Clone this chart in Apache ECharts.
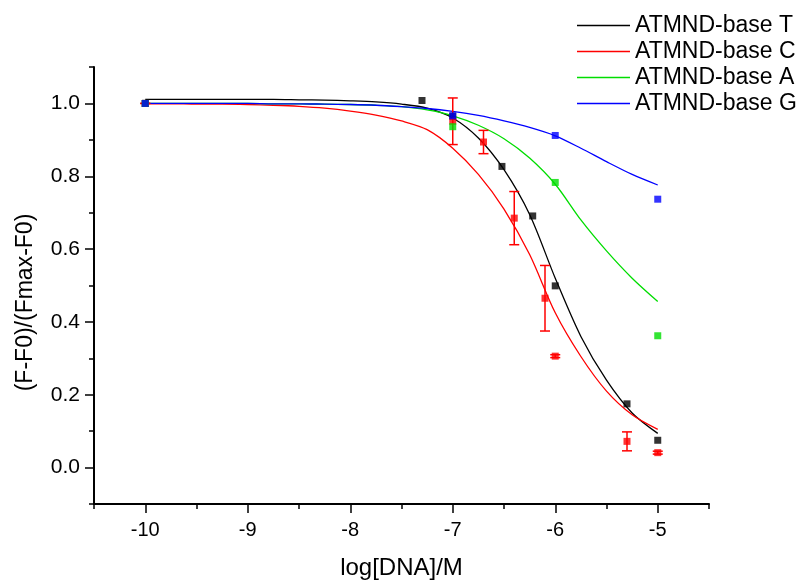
<!DOCTYPE html>
<html>
<head>
<meta charset="utf-8">
<script src="https://cdn.jsdelivr.net/npm/echarts@6/dist/echarts.min.js"></script>
<style>html,body{margin:0;padding:0;background:#fff}#c{width:806px;height:580px}</style>
</head>
<body>
<div id="c"></div>
<script>
// ---------- data ----------
const seriesNames = ['ATMND-base T', 'ATMND-base C', 'ATMND-base A', 'ATMND-base G'];

// measured points
const tX = [-10, -7.3, -7, -6.52, -6.22, -6, -5.3, -5];
const tY = [1.0, 1.008, 0.965, 0.827, 0.691, 0.499, 0.175, 0.075];

const cX = [-10, -7, -6.7, -6.4, -6.1, -6, -5.3, -5];
const cY = [1.0, 0.951, 0.894, 0.685, 0.465, 0.306, 0.072, 0.041];
const cErr = [0, 0.064, 0.032, 0.073, 0.09, 0.004, 0.026, 0.004];

const aX = [-10, -7, -6, -5];
const aY = [1.0, 0.936, 0.783, 0.362];

const gX = [-10, -7, -6, -5];
const gY = [1.0, 0.966, 0.912, 0.737];

// fitted curves
const curveX = [-10, -9.75, -9.5, -9.25, -9, -8.75, -8.5, -8.25, -8, -7.75, -7.5,
                -7.25, -7, -6.75, -6.5, -6.25, -6, -5.75, -5.5, -5.25, -5];
const tFit = [1.011, 1.011, 1.011, 1.011, 1.011, 1.011, 1.010, 1.009, 1.007, 1.004, 0.998,
              0.987, 0.960, 0.905, 0.818, 0.695, 0.52, 0.36, 0.24, 0.150, 0.094];
const cFit = [0.999, 0.999, 0.998, 0.998, 0.997, 0.995, 0.992, 0.987, 0.979, 0.968, 0.952,
              0.928, 0.877, 0.805, 0.71, 0.585, 0.425, 0.305, 0.21, 0.145, 0.105];
const aFit = [1.0, 1.0, 1.0, 1.0, 1.0, 0.999, 0.999, 0.998, 0.997, 0.995, 0.991,
              0.982, 0.966, 0.94, 0.903, 0.85, 0.778, 0.68, 0.595, 0.52, 0.456];
const gFit = [1.0, 1.0, 1.0, 1.0, 1.0, 0.999, 0.999, 0.998, 0.997, 0.995, 0.991,
              0.986, 0.978, 0.967, 0.952, 0.934, 0.911, 0.877, 0.84, 0.805, 0.776];

// axes
const xRange = [-10.5, -4.5];
const yRange = [-0.1, 1.1];
const xTickLabels = [-10, -9, -8, -7, -6, -5];
const yTickLabels = [0.0, 0.2, 0.4, 0.6, 0.8, 1.0];
const xTitle = 'log[DNA]/M';
const yTitle = '(F-F0)/(Fmax-F0)';

// ---------- layout / style ----------
const W = 806, H = 580;
const G = { left: 94, right: 97, top: 67, bottom: 76 };
const pw = W - G.left - G.right, ph = H - G.top - G.bottom;
const xs = pw / (xRange[1] - xRange[0]);
const ys = ph / (yRange[1] - yRange[0]);
const xMajMin = xTickLabels[0], xMajMax = xTickLabels[xTickLabels.length - 1];
const yMajMin = yTickLabels[0], yMajMax = yTickLabels[yTickLabels.length - 1];
const G2 = {
  left: G.left + (xMajMin - xRange[0]) * xs,
  right: G.right + (xRange[1] - xMajMax) * xs,
  top: G.top + (yRange[1] - yMajMax) * ys,
  bottom: G.bottom + (yMajMin - yRange[0]) * ys
};
const FONT = 'Liberation Sans, Arial, sans-serif';
const colors = ['#000000', '#ff0000', '#00dd00', '#0000ff'];

const zip = (xa, ya) => xa.map((x, i) => [x, ya[i]]);

const chart = echarts.init(document.getElementById('c'), null, { renderer: 'canvas' });

const lineSeries = [tFit, cFit, aFit, gFit].map((fit, i) => ({
  name: seriesNames[i],
  type: 'line',
  xAxisIndex: 0, yAxisIndex: 0,
  data: zip(curveX, fit),
  smooth: 0.3,
  showSymbol: false,
  symbol: 'none',
  lineStyle: { color: colors[i], width: 1.3 },
  itemStyle: { color: colors[i] },
  z: 2
}));

const errSeries = {
  name: 'C err',
  type: 'custom',
  xAxisIndex: 0, yAxisIndex: 0,
  data: cX.map((x, i) => [x, cY[i] - cErr[i], cY[i] + cErr[i]]),
  renderItem: function (params, api) {
    const x = api.value(0), lo = api.value(1), hi = api.value(2);
    const p1 = api.coord([x, lo]), p2 = api.coord([x, hi]);
    const cw = 5;
    const st = { stroke: '#ff0000', lineWidth: 1.5 };
    return {
      type: 'group',
      children: [
        { type: 'line', shape: { x1: p1[0], y1: p1[1], x2: p2[0], y2: p2[1] }, style: st },
        { type: 'line', shape: { x1: p1[0] - cw, y1: p1[1], x2: p1[0] + cw, y2: p1[1] }, style: st },
        { type: 'line', shape: { x1: p2[0] - cw, y1: p2[1], x2: p2[0] + cw, y2: p2[1] }, style: st }
      ]
    };
  },
  z: 3
};

const scatterSeries = [[tX, tY], [cX, cY], [aX, aY], [gX, gY]].map((d, i) => ({
  name: seriesNames[i] + ' pts',
  type: 'scatter',
  xAxisIndex: 0, yAxisIndex: 0,
  data: zip(d[0], d[1]),
  symbol: 'rect',
  symbolSize: 7,
  itemStyle: { color: colors[i] },
  z: 4
}));

const option = {
  animation: false,
  backgroundColor: '#ffffff',
  textStyle: { fontFamily: FONT },
  legend: {
    data: seriesNames,
    orient: 'vertical',
    left: 572,
    top: 9,
    icon: 'rect',
    itemWidth: 53,
    itemHeight: 1.5,
    itemGap: 3,
    textStyle: { fontSize: 23, color: '#000', fontFamily: FONT, lineHeight: 23 }
  },
  grid: [
    { left: G.left, right: G.right, top: G.top, bottom: G.bottom, containLabel: false, outerBoundsMode: 'none' },
    { left: G2.left, right: G2.right, top: G2.top, bottom: G2.bottom, containLabel: false, outerBoundsMode: 'none' }
  ],
  xAxis: [
    {
      gridIndex: 0, type: 'value', min: xRange[0], max: xRange[1], interval: 0.5,
      axisLine: { show: true, onZero: false, lineStyle: { color: '#000', width: 2 } },
      axisTick: { show: true, length: 5, lineStyle: { color: '#000', width: 1.5 } },
      axisLabel: { show: false },
      splitLine: { show: false },
      name: xTitle, nameLocation: 'middle', nameGap: 52,
      nameTextStyle: { fontSize: 24, color: '#000', fontFamily: FONT }
    },
    {
      gridIndex: 1, type: 'value', min: xMajMin, max: xMajMax, interval: 1,
      offset: (yMajMin - yRange[0]) * ys,
      axisLine: { show: false, onZero: false },
      axisTick: { show: true, length: 9, lineStyle: { color: '#000', width: 1.5 } },
      axisLabel: { show: true, margin: 16, fontSize: 20, color: '#000', fontFamily: FONT },
      splitLine: { show: false }
    }
  ],
  yAxis: [
    {
      gridIndex: 0, type: 'value', min: yRange[0], max: yRange[1], interval: 0.1,
      axisLine: { show: true, onZero: false, lineStyle: { color: '#000', width: 2 } },
      axisTick: { show: true, length: 5, lineStyle: { color: '#000', width: 1.5 } },
      axisLabel: { show: false },
      splitLine: { show: false },
      name: yTitle, nameLocation: 'middle', nameGap: 57,
      nameTextStyle: { fontSize: 23, color: '#000', fontFamily: FONT, padding: [0, 34, 0, 0] }
    },
    {
      gridIndex: 1, type: 'value', min: yMajMin, max: yMajMax, interval: 0.2,
      offset: (xMajMin - xRange[0]) * xs,
      axisLine: { show: false, onZero: false },
      axisTick: { show: true, length: 9, lineStyle: { color: '#000', width: 1.5 } },
      axisLabel: { show: true, margin: 14, fontSize: 21, color: '#000', fontFamily: FONT,
        formatter: v => v.toFixed(1) },
      splitLine: { show: false }
    }
  ],
  series: [...lineSeries, errSeries, ...scatterSeries]
};
chart.setOption(option);
</script>
</body>
</html>
